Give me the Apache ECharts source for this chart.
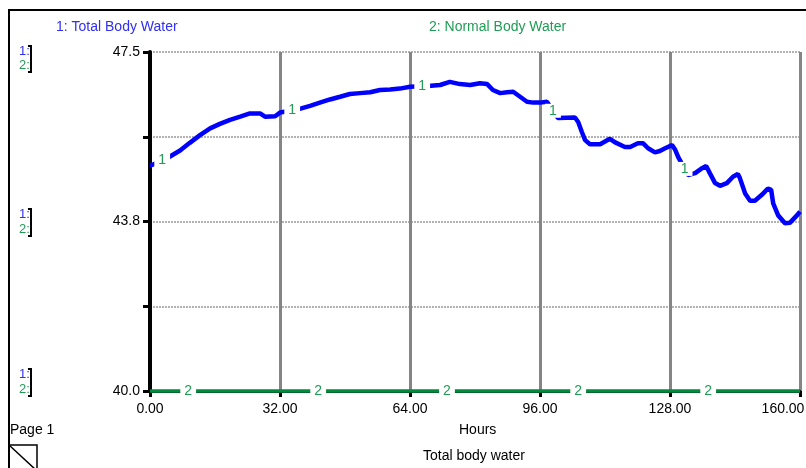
<!DOCTYPE html>
<html>
<head>
<meta charset="utf-8">
<script src="https://cdn.jsdelivr.net/npm/echarts@6/dist/echarts.min.js"></script>
<style>
  html, body { margin: 0; padding: 0; background: #fff; }
  #chart { width: 806px; height: 468px; }
</style>
</head>
<body>
<div id="chart"></div>
<script>
// Simulation output: total body water (litres) over 160 hours
const hours = [
  0, 0.5, 4.4, 7.4, 9.8, 12.3, 14.8, 17.2, 19.7, 22.2, 24.6, 27.1, 28.3, 30.8, 32.0,
  36.4, 39.4, 41.8, 44.3, 46.8, 49.2, 51.7, 54.2, 56.6, 59.1, 61.5, 64.0,
  68.4, 71.4, 73.8, 76.3, 78.8, 81.2, 83.0, 84.4, 86.2, 87.9, 89.4, 91.1, 92.8, 94.3, 96.0, 97.7,
  100.4, 104.6, 105.4, 106.3, 107.1, 108.3, 110.8, 113.2, 114.5, 116.9, 118.2, 120.1, 121.4,
  122.6, 124.3, 125.5, 126.8, 128.5, 129.2, 130.0,
  132.4, 134.2, 135.9, 136.9, 137.8, 139.1, 140.3, 142.0, 143.5, 144.7, 145.2, 146.5, 147.7,
  148.9, 150.6, 152.1, 152.9, 153.4, 154.6, 156.3, 157.5, 159.3, 160.0
];
const totalBodyWater = [
  45.00, 45.00, 45.16, 45.32, 45.49, 45.66, 45.81, 45.91, 46.00, 46.07, 46.14, 46.14, 46.07, 46.08, 46.16,
  46.23, 46.31, 46.38, 46.45, 46.51, 46.57, 46.59, 46.61, 46.66, 46.67, 46.69, 46.73,
  46.75, 46.77, 46.84, 46.79, 46.77, 46.81, 46.79, 46.66, 46.59, 46.61, 46.62, 46.51, 46.40, 46.38, 46.38, 46.40,
  46.04, 46.05, 45.95, 45.73, 45.55, 45.46, 45.46, 45.58, 45.50, 45.40, 45.40, 45.48, 45.48,
  45.37, 45.28, 45.31, 45.37, 45.44, 45.35, 45.18,
  44.78, 44.82, 44.93, 44.98, 44.82, 44.60, 44.54, 44.60, 44.74, 44.80, 44.71, 44.37, 44.21,
  44.21, 44.34, 44.48, 44.45, 44.15, 43.89, 43.71, 43.72, 43.89, 43.97
];
// Normal body water sits at the floor of the scale
const normalHours = [0, 160];
const normalBodyWater = [40, 40];

// Hours at which the curve numbers are printed along each line
const curve1LabelHours = [3, 35, 67, 99.2, 131.6];
const curve2LabelHours = [9.4, 41.4, 73.1, 105.4, 137.4];

// Axis text
const xTickLabels = ['0.00', '32.00', '64.00', '96.00', '128.00', '160.00'];
const yTickLabels = ['40.0', '', '43.8', '', '47.5'];
const yMin = 40, yMax = 47.5;

const FONT = '"Liberation Sans", Arial, sans-serif';
const BLUE_TEXT = '#2f2ff5';
const GREEN_TEXT = '#1f9d55';
const GREEN_LINE = '#008a3c';

function zip(xs, ys) { return xs.map((x, i) => [x, ys[i]]); }
function valueAt(xs, ys, h) {
  for (let i = 1; i < xs.length; i++) {
    if (h <= xs[i]) {
      const f = (h - xs[i - 1]) / (xs[i] - xs[i - 1]);
      return ys[i - 1] + f * (ys[i] - ys[i - 1]);
    }
  }
  return ys[ys.length - 1];
}

function curveLabels(name, text, points) {
  return {
    type: 'scatter', name: name, yAxisIndex: 0, z: 10,
    symbol: 'rect', symbolSize: 1,
    itemStyle: { color: 'rgba(0,0,0,0)', opacity: 1 },
    silent: true, clip: false,
    label: {
      show: true, position: 'inside', formatter: text,
      color: GREEN_TEXT, fontFamily: FONT, fontSize: 14,
      backgroundColor: '#fff', padding: [0, 4, 0, 4], opacity: 1
    },
    data: points
  };
}

const chart = echarts.init(document.getElementById('chart'), null, { renderer: 'canvas' });

// Left-margin scale keys: "1:" / "2:" with a bracket
function scaleKey(y1, y2) {
  return [
    { type: 'text', left: 19, top: y1 - 8, style: { text: '1:', fill: BLUE_TEXT, font: '13px ' + FONT } },
    { type: 'text', left: 19, top: y2 - 8, style: { text: '2:', fill: GREEN_TEXT, font: '13px ' + FONT } },
    { type: 'polyline', shape: { points: [[28, y1 - 7], [31, y1 - 7], [31, y2 + 5], [28, y2 + 5]] },
      style: { stroke: '#000', lineWidth: 2, fill: null } }
  ];
}

const option = {
  animation: false,
  backgroundColor: '#fff',
  grid: { left: 150, right: 6, top: 52, bottom: 77, containLabel: false, outerBoundsMode: 'none' },
  xAxis: {
    type: 'value', min: 0, max: 160, interval: 32, offset: 1,
    axisLine: { show: true, lineStyle: { color: '#000', width: 3 } },
    axisTick: { show: true, length: 6, lineStyle: { color: '#000', width: 3 } },
    axisLabel: {
      color: '#000', fontFamily: FONT, fontSize: 14, margin: 10,
      formatter: (v) => {
        const i = Math.round(v / 32);
        // the last label is nudged left so it stays on the page
        return i === xTickLabels.length - 1 ? '{edge|' + xTickLabels[i] + '}' : xTickLabels[i];
      },
      rich: { edge: { color: '#000', fontFamily: FONT, fontSize: 14, padding: [0, 34, 0, 0] } }
    },
    splitLine: { show: true, lineStyle: { color: '#858585', width: 3 } }
  },
  yAxis: [
    { type: 'value', min: yMin, max: yMax, show: false },
    {
      type: 'value', min: 0, max: 4, interval: 1, position: 'left',
      axisLine: { show: true, onZero: false, lineStyle: { color: '#000', width: 4 } },
      axisTick: { show: true, length: 7, lineStyle: { color: '#000', width: 3 } },
      axisLabel: {
        color: '#000', fontFamily: FONT, fontSize: 14, margin: 10,
        formatter: (v) => yTickLabels[Math.round(v)]
      },
      splitLine: { show: true, lineStyle: { color: '#b2b2b2', width: 2, type: [2, 1] } }
    }
  ],
  series: [
    {
      type: 'line', name: 'Total Body Water', yAxisIndex: 0, z: 5,
      showSymbol: false, symbol: 'none',
      lineStyle: { color: '#0000ff', width: 4.5 },
      data: zip(hours, totalBodyWater)
    },
    {
      type: 'line', name: 'Normal Body Water', yAxisIndex: 0, z: 6,
      showSymbol: false, symbol: 'none', clip: false,
      lineStyle: { color: GREEN_LINE, width: 3.5 },
      data: zip(normalHours, normalBodyWater)
    },
    curveLabels('curve 1 labels', '1',
      curve1LabelHours.map(h => [h, valueAt(hours, totalBodyWater, h)])),
    curveLabels('curve 2 labels', '2',
      curve2LabelHours.map(h => [h, valueAt(normalHours, normalBodyWater, h)]))
  ],
  graphic: [
    // page frame
    { type: 'rect', shape: { x: 9, y: 10, width: 900, height: 500 },
      style: { stroke: '#000', lineWidth: 2, fill: null }, z: 100 },
    { type: 'text', left: 56, top: 20,
      style: { text: '1: Total Body Water', fill: BLUE_TEXT, font: '14px ' + FONT } },
    { type: 'text', left: 429, top: 20,
      style: { text: '2: Normal Body Water', fill: GREEN_TEXT, font: '14px ' + FONT } },
    ...scaleKey(53, 67),
    ...scaleKey(216, 231),
    ...scaleKey(376, 391),
    { type: 'text', left: 459, top: 423, style: { text: 'Hours', fill: '#000', font: '14px ' + FONT } },
    { type: 'text', left: 423, top: 449, style: { text: 'Total body water', fill: '#000', font: '14px ' + FONT } },
    { type: 'text', left: 10, top: 423, style: { text: 'Page 1', fill: '#000', font: '14px ' + FONT } },
    { type: 'rect', shape: { x: 9, y: 445, width: 28, height: 40 },
      style: { stroke: '#000', lineWidth: 1.5, fill: null } },
    { type: 'line', shape: { x1: 9, y1: 445, x2: 36, y2: 470 },
      style: { stroke: '#000', lineWidth: 1.5 } }
  ]
};

chart.setOption(option);
</script>
</body>
</html>
